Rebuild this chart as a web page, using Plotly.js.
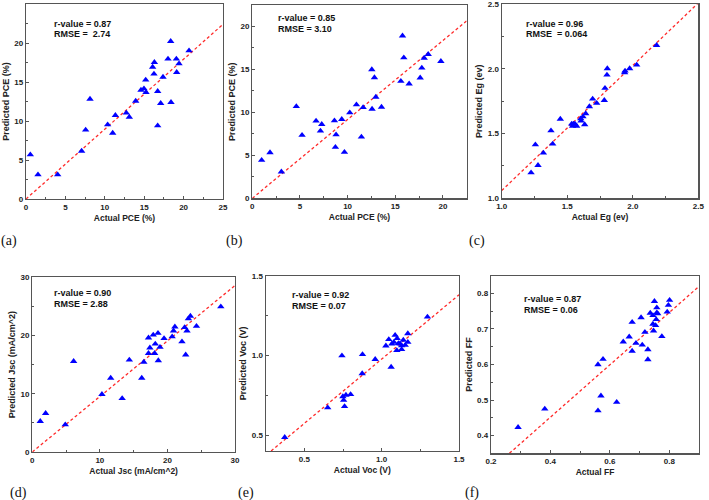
<!DOCTYPE html>
<html><head><meta charset="utf-8">
<script src="https://cdn.plot.ly/plotly-3.0.1.min.js"></script>
<style>html,body{margin:0;padding:0;background:#fff}#chart{width:709px;height:500px}</style>
</head><body><div id="chart"></div>
<script>
// ---------- data ----------
const aActual = [0.55,1.52,4.02,7.06,7.57,8.12,10.36,11.0,11.34,12.73,13.11,13.92,14.59,14.97,15.19,15.23,16.07,16.29,16.24,16.71,16.71,17.09,17.39,18.02,18.36,18.40,19.08,19.12,19.42,20.69];
const aPred   = [5.68,3.12,3.12,6.15,8.85,12.82,9.53,8.46,10.73,11.03,10.51,12.56,13.97,14.15,15.26,13.68,16.92,17.52,16.03,13.80,9.40,12.26,15.64,17.95,20.21,12.39,17.95,16.24,17.35,19.02];
const aFitX = [0,25], aFitY = [0,22.4];

const bActual = [0.98,1.86,3.05,4.62,5.22,6.69,7.15,7.29,8.62,8.72,8.79,9.39,9.67,10.23,10.93,11.45,11.63,12.54,12.57,12.82,12.96,13.56,15.59,15.76,15.9,16.46,17.62,17.79,18.04,18.46,19.79];
const bPred   = [4.44,5.33,3.09,10.69,7.34,9.0,7.84,8.61,9.03,5.95,7.41,9.19,5.37,9.96,10.89,7.14,10.58,14.98,10.39,14.05,11.78,10.62,13.63,18.92,16.37,13.32,14.02,15.17,16.33,16.76,15.95];
const bFitX = [0,22.5], bFitY = [0,20.65];

const cActual = [1.224,1.257,1.277,1.318,1.376,1.389,1.447,1.534,1.541,1.547,1.559,1.572,1.603,1.605,1.620,1.633,1.641,1.669,1.694,1.725,1.783,1.788,1.803,1.806,1.938,1.941,1.976,2.030,2.182];
const cPred   = [1.198,1.415,1.255,1.351,1.523,1.420,1.613,1.575,1.559,1.575,1.575,1.559,1.616,1.598,1.631,1.570,1.655,1.709,1.768,1.735,1.758,1.851,1.954,2.003,1.972,1.985,2.003,2.031,2.183];
const cFitX = [1.0,2.5], cFitY = [1.06,2.51];

const dActual = [1.18,1.97,4.88,6.12,10.31,11.6,13.3,14.36,16.2,16.5,17.2,17.4,18.1,18.2,18.65,18.9,17.2,17.9,18.6,19.5,20.7,20.9,21.1,22.15,22.55,22.7,22.9,23.1,23.4,24.3,27.9];
const dPred   = [5.27,6.64,4.69,15.57,9.9,12.7,9.2,15.8,12.7,15.45,16.95,17.9,16.95,18.55,15.7,18.0,19.6,20.1,20.4,19.5,19.8,20.8,21.5,18.95,21.4,16.7,20.8,22.9,23.35,21.6,24.96];
const dFitX = [0,30], dFitY = [0,28.6];

const eActual = [0.373,0.651,0.743,0.749,0.754,0.760,0.769,0.799,0.876,0.874,0.958,1.027,1.046,1.061,1.066,1.079,1.087,1.100,1.098,1.108,1.118,1.129,1.129,1.140,1.152,1.169,1.169,1.296];
const ePred   = [0.486,0.672,0.998,0.742,0.719,0.680,0.751,0.755,1.006,0.886,0.975,1.060,1.100,0.927,1.073,1.083,1.127,1.106,1.031,1.075,1.073,1.062,1.037,1.096,1.064,1.137,1.083,1.241];
const eFitX = [0.285,1.5], eFitY = [0.4,1.38];

const fActual = [0.291,0.381,0.560,0.560,0.570,0.577,0.623,0.645,0.665,0.675,0.675,0.688,0.705,0.709,0.718,0.728,0.728,0.736,0.745,0.745,0.747,0.750,0.754,0.756,0.758,0.758,0.761,0.775,0.793,0.797,0.801];
const fPred   = [0.423,0.475,0.600,0.470,0.512,0.615,0.494,0.664,0.678,0.638,0.719,0.660,0.732,0.655,0.691,0.642,0.614,0.745,0.738,0.714,0.695,0.778,0.710,0.727,0.760,0.746,0.743,0.679,0.748,0.767,0.781];
const fFitX = [0.262,0.9], fFitY = [0.35,0.82];

const xTitles = ["Actual PCE (%)","Actual PCE (%)","Actual Eg (ev)","Actual Jsc (mA/cm^2)","Actual Voc (V)","Actual FF"];
const yTitles = ["Predicted PCE (%)","Predicted PCE (%)","Predicted Eg (ev)","Predicted Jsc (mA/cm^2)","Predicted Voc (V)","Predicted FF"];
const rLabels = ["r-value = 0.87","r-value = 0.85","r-value = 0.96","r-value = 0.90","r-value = 0.92","r-value = 0.87"];
const rmseLabels = ["RMSE =  2.74","RMSE = 3.10","RMSE  = 0.064","RMSE = 2.88","RMSE = 0.07","RMSE = 0.06"];
const panelLabels = ["(a)","(b)","(c)","(d)","(e)","(f)"];

// ---------- build ----------
const scatterSets = [[aActual,aPred,aFitX,aFitY],[bActual,bPred,bFitX,bFitY],[cActual,cPred,cFitX,cFitY],
                     [dActual,dPred,dFitX,dFitY],[eActual,ePred,eFitX,eFitY],[fActual,fPred,fFitX,fFitY]];
const W = 709, H = 500;
// plot boxes in pixels [left, right, top, bottom]
const boxes = [[26,223,4,199],[252.3,466.7,5,198.3],[501.7,698.3,4.3,198.3],
               [32.3,235,277.3,452],[265.7,459,275.7,451],[491,699,275.7,453.3]];
const xr = [[0,25],[0,22.5],[1.0,2.5],[0,30],[0.25,1.5],[0.2,0.9]];
const yr = [[0,25],[0,22.5],[1.0,2.5],[0,30],[0.4,1.5],[0.35,0.85]];
const xd = [5,5,0.5,10,0.5,0.2], yd = [5,5,0.5,10,0.5,0.1];
const xt0 = [0,0,1,0,0,0], yt0 = [0,0,1,0,0,0];
const xfmt = ["d","d",".1f","d",".1f",".1f"], yfmt = ["d","d",".1f","d",".1f",".1f"];
const rPos = [[52,24],[276,18],[524,24],[52,293],[290,295],[522,299]];
const pPos = [[9,241],[234,241],[477,241],[18,493],[246,493],[472,493]];

const sans = "Liberation Sans, Arial, Helvetica, sans-serif";
const traces = [], layout = {width:W,height:H,margin:{l:0,r:0,t:0,b:0},showlegend:false,
  paper_bgcolor:"#fff",plot_bgcolor:"#fff",annotations:[]};

scatterSets.forEach((s,i)=>{
  const n = i===0 ? "" : String(i+1);
  traces.push({type:"scatter",mode:"lines",x:s[2],y:s[3],xaxis:"x"+n,yaxis:"y"+n,
    line:{color:"#ff2a2a",width:1.3,dash:"3px,2.5px"},hoverinfo:"skip"});
  traces.push({type:"scatter",mode:"markers",x:s[0],y:s[1],xaxis:"x"+n,yaxis:"y"+n,
    marker:{symbol:"triangle-up",size:6.5,color:"#0000ff",line:{width:0}}});
  const b = boxes[i];
  const common = {showgrid:false,zeroline:false,showline:true,linecolor:"#555",linewidth:1.2,mirror:true,
    ticks:"inside",ticklen:3,tickcolor:"#555",tickwidth:1,
    tickfont:{family:sans,size:8,color:"#222",weight:"bold"}};
  layout["xaxis"+n] = Object.assign({},common,{domain:[b[0]/W,b[1]/W],anchor:"y"+n,range:xr[i],
    tick0:xt0[i],dtick:xd[i],tickformat:xfmt[i],
    minor:{ticks:"inside",ticklen:2,dtick:xd[i]/2,tickcolor:"#555"},
    title:{text:xTitles[i],standoff:4,font:{family:sans,size:8.5,color:"#222",weight:"bold"}}});
  layout["yaxis"+n] = Object.assign({},common,{domain:[1-b[3]/H,1-b[2]/H],anchor:"x"+n,range:yr[i],
    tick0:yt0[i],dtick:yd[i],tickformat:yfmt[i],
    minor:{ticks:"inside",ticklen:2,dtick:yd[i]/2,tickcolor:"#555"},
    title:{text:yTitles[i],standoff:3,font:{family:sans,size:9,color:"#222",weight:"bold"}}});
  layout.annotations.push({xref:"paper",yref:"paper",x:rPos[i][0]/W,y:1-rPos[i][1]/H,xanchor:"left",yanchor:"middle",
    text:rLabels[i],showarrow:false,font:{family:sans,size:9,color:"#111",weight:"bold"}});
  layout.annotations.push({xref:"paper",yref:"paper",x:rPos[i][0]/W,y:1-(rPos[i][1]+10.5)/H,xanchor:"left",yanchor:"middle",
    text:rmseLabels[i],showarrow:false,font:{family:sans,size:9,color:"#111",weight:"bold"}});
  layout.annotations.push({xref:"paper",yref:"paper",x:pPos[i][0]/W,y:1-pPos[i][1]/H,xanchor:"center",yanchor:"middle",
    text:panelLabels[i],showarrow:false,font:{family:"Liberation Serif, DejaVu Serif, serif",size:14,color:"#111"}});
});

Plotly.newPlot("chart",traces,layout,{staticPlot:true,displayModeBar:false});
</script></body></html>
